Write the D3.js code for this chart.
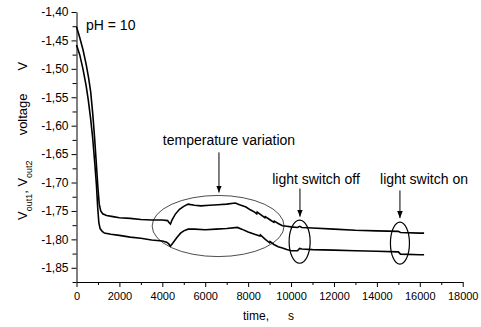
<!DOCTYPE html>
<html>
<head>
<meta charset="utf-8">
<script src="https://cdn.jsdelivr.net/npm/d3@7"></script>
<style>
  body { margin: 0; background: white; }
  text { font-family: "Liberation Sans", Arial, sans-serif; fill: black; }
</style>
</head>
<body>
<div id="chart"></div>
<script>
// time in seconds, voltages
var timeUpper = [0, 150, 300, 450, 560, 660, 760, 850, 930, 1000, 1060, 1130, 1220, 1400, 1700, 2000, 2500, 3000, 3500, 4000, 4250, 4300, 4380, 4450, 4600, 4800, 5000, 5200, 5500, 5800, 6200, 6600, 7000, 7400, 7600, 7900, 8100, 8300, 8400, 8420, 8600, 8780, 8800, 9000, 9200, 9220, 9400, 9600, 9800, 10000, 10300, 10400, 10500, 11000, 12000, 13000, 14000, 15000, 15100, 16000, 16200];
var voltUpper = [-1.426, -1.445, -1.466, -1.492, -1.515, -1.540, -1.580, -1.625, -1.670, -1.710, -1.738, -1.750, -1.755, -1.758, -1.760, -1.762, -1.763, -1.765, -1.766, -1.766, -1.767, -1.770, -1.773, -1.766, -1.756, -1.747, -1.742, -1.738, -1.740, -1.741, -1.740, -1.739, -1.738, -1.736, -1.739, -1.743, -1.748, -1.752, -1.755, -1.752, -1.757, -1.762, -1.760, -1.765, -1.770, -1.768, -1.772, -1.776, -1.777, -1.778, -1.779, -1.777, -1.779, -1.780, -1.782, -1.784, -1.785, -1.786, -1.788, -1.789, -1.789];

var timeLower = [0, 150, 300, 450, 550, 650, 750, 850, 930, 990, 1040, 1100, 1200, 1300, 1600, 2000, 2500, 3000, 3500, 4000, 4200, 4300, 4380, 4500, 4670, 4850, 5000, 5200, 5500, 6000, 6500, 7000, 7500, 7700, 8000, 8300, 8550, 8570, 8800, 9000, 9020, 9200, 9400, 9600, 9800, 10000, 10300, 10400, 10500, 11000, 12000, 13000, 14000, 15000, 15100, 16000, 16200];
var voltLower = [-1.458, -1.475, -1.500, -1.530, -1.555, -1.585, -1.620, -1.665, -1.705, -1.745, -1.770, -1.781, -1.786, -1.789, -1.791, -1.793, -1.796, -1.798, -1.801, -1.803, -1.805, -1.808, -1.812, -1.806, -1.797, -1.789, -1.785, -1.782, -1.782, -1.783, -1.782, -1.781, -1.779, -1.782, -1.787, -1.791, -1.794, -1.792, -1.800, -1.806, -1.804, -1.809, -1.813, -1.815, -1.818, -1.820, -1.820, -1.816, -1.817, -1.818, -1.819, -1.820, -1.821, -1.822, -1.826, -1.827, -1.827];

var xTicks = [0, 2000, 4000, 6000, 8000, 10000, 12000, 14000, 16000, 18000];
var xTickLabels = ["0", "2000", "4000", "6000", "8000", "10000", "12000", "14000", "16000", "18000"];
var yTicks = [-1.85, -1.80, -1.75, -1.70, -1.65, -1.60, -1.55, -1.50, -1.45, -1.40];
var yTickLabels = ["-1,85", "-1,80", "-1,75", "-1,70", "-1,65", "-1,60", "-1,55", "-1,50", "-1,45", "-1,40"];

// annotations: label, ellipse centre / radii (data units), arrow
var noteLabels = ["temperature variation", "light switch off", "light switch on"];
var noteTime = [6600, 10400, 15075];
var noteVolt = [-1.7765, -1.804, -1.8067];
var noteRadT = [3075, 490, 443];
var noteRadV = [0.0538, 0.038, 0.037];
var arrowTime = [6640, 10415, 15075];
var arrowFrom = [-1.647, -1.7106, -1.714];
var arrowTo = [-1.7176, -1.760, -1.7626];

var width = 481;
var height = 327;

var svg = d3.select("#chart")
    .append("svg")
    .attr("width", width)
    .attr("height", height);

var x = d3.scaleLinear()
    .domain([0, 18000])
    .range([76.5, 462.7]);

var y = d3.scaleLinear()
    .domain([-1.875, -1.40])
    .range([282, 12]);

// minor ticks first, then the labelled ones
svg.append("g")
    .attr("transform", "translate(0,282)")
    .call(d3.axisBottom(x).tickValues(d3.range(1000, 18000, 2000)).tickSize(3).tickFormat(""))
    .call(function(g) { g.select(".domain").remove(); });

svg.append("g")
    .attr("transform", "translate(0,282)")
    .call(d3.axisBottom(x).tickValues(xTicks).tickSize(5).tickPadding(5).tickSizeOuter(0)
        .tickFormat(function(d, i) { return xTickLabels[i]; }))
    .call(function(g) { g.selectAll("text").style("font-size", "11px"); });

svg.append("g")
    .attr("transform", "translate(76.5,0)")
    .call(d3.axisLeft(y).tickValues([-1.875, -1.825, -1.775, -1.725, -1.675, -1.625, -1.575, -1.525, -1.475, -1.425]).tickSize(4).tickFormat(""))
    .call(function(g) { g.select(".domain").remove(); });

svg.append("g")
    .attr("transform", "translate(76.5,0)")
    .call(d3.axisLeft(y).tickValues(yTicks).tickSize(5).tickPadding(3).tickSizeOuter(0)
        .tickFormat(function(d, i) { return yTickLabels[i]; }))
    .call(function(g) { g.selectAll("text").style("font-size", "12px"); });

svg.selectAll(".domain").attr("stroke", "black");
svg.selectAll(".tick line").attr("stroke", "black");

var line = d3.line()
    .x(function(d) { return x(d[0]); })
    .y(function(d) { return y(d[1]); });

var series = [
    timeUpper.map(function(t, i) { return [t, voltUpper[i]]; }),
    timeLower.map(function(t, i) { return [t, voltLower[i]]; })
];

svg.selectAll(".curve")
    .data(series)
    .enter().append("path")
    .attr("class", "curve")
    .attr("d", line)
    .attr("fill", "none")
    .attr("stroke", "black")
    .attr("stroke-width", 1.6);

// ellipses round the events
svg.selectAll(".ring")
    .data(noteTime)
    .enter().append("ellipse")
    .attr("class", "ring")
    .attr("cx", function(d) { return x(d); })
    .attr("cy", function(d, i) { return y(noteVolt[i]); })
    .attr("rx", function(d, i) { return x(noteRadT[i]) - x(0); })
    .attr("ry", function(d, i) { return y(-1.40 - noteRadV[i]) - y(-1.40); })
    .attr("fill", "none")
    .attr("stroke", "black")
    .attr("stroke-width", function(d, i) { return i == 0 ? 0.7 : 1.2; });

svg.append("defs").append("marker")
    .attr("id", "head")
    .attr("viewBox", "0 0 10 10")
    .attr("refX", 10)
    .attr("refY", 5)
    .attr("markerWidth", 7)
    .attr("markerHeight", 7)
    .attr("markerUnits", "userSpaceOnUse")
    .attr("orient", "auto")
    .append("path")
    .attr("d", "M0,1 L10,5 L0,9 z")
    .attr("fill", "black");

svg.selectAll(".arrow")
    .data(arrowTime)
    .enter().append("line")
    .attr("class", "arrow")
    .attr("x1", function(d) { return x(d); })
    .attr("x2", function(d) { return x(d); })
    .attr("y1", function(d, i) { return y(arrowFrom[i]); })
    .attr("y2", function(d, i) { return y(arrowTo[i]); })
    .attr("stroke", "black")
    .attr("stroke-width", 1)
    .attr("marker-end", "url(#head)");

var labelX = [229, 316, 424];
var labelY = [145, 183.5, 183.5];
svg.selectAll(".note")
    .data(noteLabels)
    .enter().append("text")
    .attr("class", "note")
    .attr("x", function(d, i) { return labelX[i]; })
    .attr("y", function(d, i) { return labelY[i]; })
    .attr("text-anchor", "middle")
    .style("font-size", "14px")
    .text(function(d) { return d; });

svg.append("text")
    .attr("x", 86)
    .attr("y", 30)
    .style("font-size", "14px")
    .text("pH = 10");

// axis titles
var xTitle = svg.append("text")
    .attr("x", 243)
    .attr("y", 320)
    .style("font-size", "12px");
xTitle.append("tspan").text("time,");
xTitle.append("tspan").attr("dx", 19).text("s");

var yTitle = svg.append("text")
    .attr("transform", "translate(27,220) rotate(-90)")
    .style("font-size", "13px");
yTitle.append("tspan").text("V");
yTitle.append("tspan").attr("dy", 5).style("font-size", "9px").text("out1");
yTitle.append("tspan").attr("dy", -5).text(", V");
yTitle.append("tspan").attr("dy", 5).style("font-size", "9px").text("out2");
yTitle.append("tspan").attr("dy", -5).attr("dx", 25).text("voltage");
yTitle.append("tspan").attr("dx", 23).text("V");
</script>
</body>
</html>
